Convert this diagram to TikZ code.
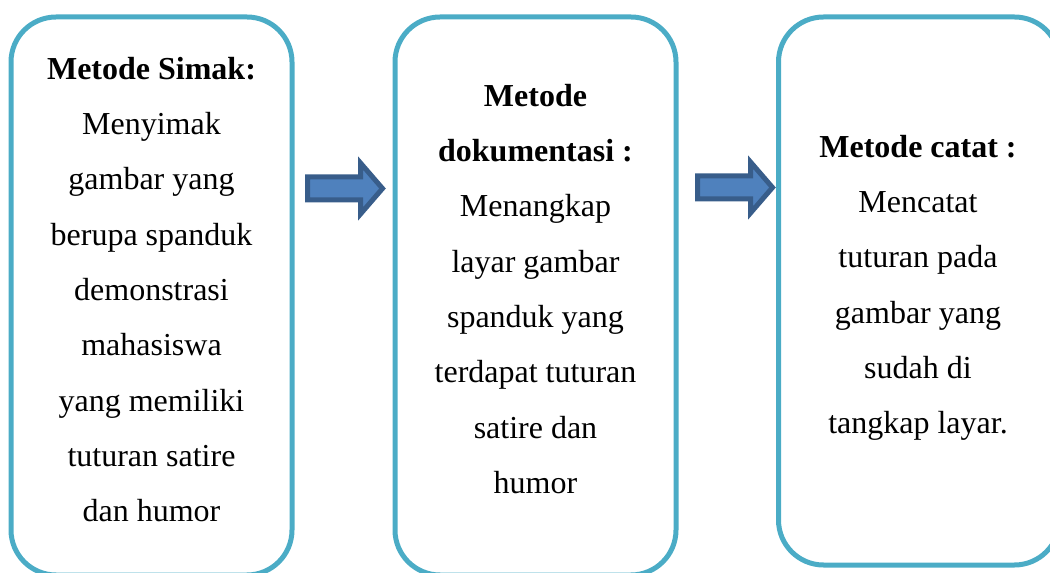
\documentclass[tikz,border=0pt]{standalone}
\usepackage{fontspec}
\setmainfont{Liberation Serif}
\definecolor{boxline}{HTML}{4BACC6}
\definecolor{arrfill}{HTML}{4F81BD}
\definecolor{arrline}{HTML}{385D8A}
\begin{document}
\begin{tikzpicture}[x=0.75pt,y=-0.75pt,
  methodbox/.style={draw=boxline, line width=3.75pt, rounded corners=33.75pt,
    rectangle, minimum width=210.75pt, inner sep=0pt},
  boxtext/.style={anchor=north, align=center, inner sep=0pt,
    font=\fontsize{24pt}{41.5pt}\selectfont},
  blockarrow/.style={draw=arrline, fill=arrfill, line width=3.75pt, line join=miter}]
\useasboundingbox (0,0) rectangle (1050,573);
\clip (0,0) rectangle (1050,573);
% boxes
\node[methodbox, minimum height=418.5pt] (b1) at (151.5,296) {};
\node[methodbox, minimum height=418.5pt] (b2) at (535.5,296) {};
\node[methodbox, minimum height=411pt] (b3) at (919,291) {};
% texts (north = first baseline - 20pt)
\node[boxtext] (t1) at (151.5,52.3) {\rule{0pt}{20pt}\textbf{Metode Simak:}\\Menyimak\\gambar yang\\berupa spanduk\\demonstrasi\\mahasiswa\\yang memiliki\\tuturan satire\\dan humor};
\node[boxtext] (t2) at (535.5,79.3) {\rule{0pt}{20pt}\textbf{Metode}\\\textbf{dokumentasi :}\\Menangkap\\layar gambar\\spanduk yang\\terdapat tuturan\\satire dan\\humor};
\node[boxtext] (t3) at (918,130.3) {\rule{0pt}{20pt}\textbf{Metode catat :}\\Mencatat\\tuturan pada\\gambar yang\\sudah di\\tangkap layar.};
% block arrows
\draw[blockarrow, shift={(307.5,188.5)}] (0,-11.5) -- (53,-11.5) -- (53,-25.5) -- (75,0) -- (53,25.5) -- (53,11.5) -- (0,11.5) -- cycle;
\draw[blockarrow, shift={(697.5,187.5)}] (0,-11.5) -- (53,-11.5) -- (53,-25.5) -- (75,0) -- (53,25.5) -- (53,11.5) -- (0,11.5) -- cycle;
\end{tikzpicture}
\end{document}
